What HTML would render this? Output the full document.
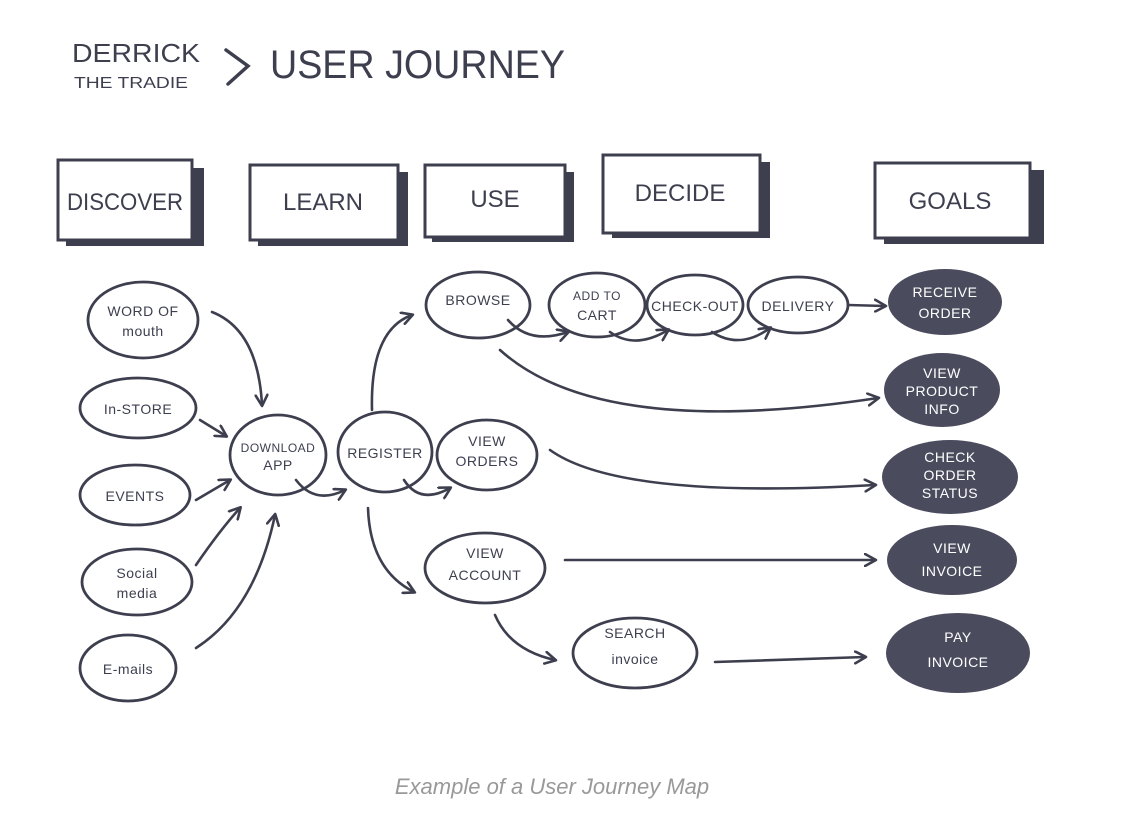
<!DOCTYPE html>
<html><head><meta charset="utf-8"><style>
html,body{margin:0;padding:0;background:#fff;}
svg{display:block}
text{font-family:"Liberation Sans",sans-serif;fill:#3d3f4f;}
</style></head><body>
<svg width="1148" height="828" viewBox="0 0 1148 828" xmlns="http://www.w3.org/2000/svg">
<defs>
<marker id="a" markerWidth="14" markerHeight="14" refX="11" refY="7" orient="auto" markerUnits="userSpaceOnUse">
<path d="M1,1 L12,7 L1,13" fill="none" stroke="#3d3f4f" stroke-width="2.6" stroke-linecap="round" stroke-linejoin="round"/>
</marker>
</defs>
<g font-family="Liberation Sans" fill="#3d3f4f">
<text x="72" y="62" font-size="26" textLength="128" lengthAdjust="spacingAndGlyphs">DERRICK</text>
<text x="74" y="88" font-size="16" textLength="114" lengthAdjust="spacingAndGlyphs">THE TRADIE</text>
<path d="M226,50 L248,66 L228,84" fill="none" stroke="#3d3f4f" stroke-width="3.5" stroke-linecap="round"/>
<text x="270" y="78" font-size="40" textLength="295" lengthAdjust="spacingAndGlyphs">USER JOURNEY</text>
</g>
<g stroke="#3d3f4f" stroke-width="3" fill="#fff">
<rect x="66" y="168" width="138" height="78" fill="#3d3f4f" stroke="none"/>
<rect x="58" y="160" width="134" height="80"/>
<rect x="258" y="172" width="150" height="74" fill="#3d3f4f" stroke="none"/>
<rect x="250" y="165" width="148" height="75"/>
<rect x="432" y="172" width="142" height="70" fill="#3d3f4f" stroke="none"/>
<rect x="425" y="165" width="140" height="72"/>
<rect x="612" y="162" width="158" height="76" fill="#3d3f4f" stroke="none"/>
<rect x="603" y="155" width="157" height="78"/>
<rect x="884" y="170" width="160" height="74" fill="#3d3f4f" stroke="none"/>
<rect x="875" y="163" width="155" height="75"/>
</g>
<g font-size="24" text-anchor="middle">
<text x="125" y="210" textLength="116" lengthAdjust="spacingAndGlyphs">DISCOVER</text>
<text x="323" y="210">LEARN</text>
<text x="495" y="207">USE</text>
<text x="680" y="201">DECIDE</text>
<text x="950" y="209">GOALS</text>
</g>
<g stroke="#3d3f4f" stroke-width="2.8" fill="none">
<ellipse cx="143" cy="320" rx="55" ry="38"/>
<ellipse cx="138" cy="408" rx="58" ry="30"/>
<ellipse cx="135" cy="495" rx="55" ry="30"/>
<ellipse cx="137" cy="582" rx="55" ry="33"/>
<ellipse cx="128" cy="668" rx="48" ry="33"/>
<ellipse cx="278" cy="455" rx="48" ry="40"/>
<ellipse cx="385" cy="452" rx="47" ry="40"/>
<ellipse cx="487" cy="455" rx="50" ry="35"/>
<ellipse cx="478" cy="305" rx="52" ry="33"/>
<ellipse cx="597" cy="305" rx="48" ry="32"/>
<ellipse cx="695" cy="305" rx="48" ry="30"/>
<ellipse cx="798" cy="305" rx="50" ry="28"/>
<ellipse cx="485" cy="568" rx="60" ry="35"/>
<ellipse cx="635" cy="653" rx="62" ry="35"/>
</g>
<g fill="#4a4c5e">
<ellipse cx="945" cy="302" rx="57" ry="33"/>
<ellipse cx="942" cy="390" rx="58" ry="37"/>
<ellipse cx="950" cy="477" rx="68" ry="37"/>
<ellipse cx="952" cy="560" rx="65" ry="35"/>
<ellipse cx="958" cy="653" rx="72" ry="40"/>
</g>
<g font-size="14" text-anchor="middle" letter-spacing="0.5">
<text x="143" y="316">WORD OF</text><text x="143" y="336">mouth</text>
<text x="138" y="414">In-STORE</text>
<text x="135" y="501">EVENTS</text>
<text x="137" y="578">Social</text><text x="137" y="598">media</text>
<text x="128" y="674">E-mails</text>
<text x="278" y="452" font-size="12">DOWNLOAD</text><text x="278" y="470">APP</text>
<text x="385" y="458">REGISTER</text>
<text x="487" y="446">VIEW</text><text x="487" y="466">ORDERS</text>
<text x="478" y="305">BROWSE</text>
<text x="597" y="300" font-size="12">ADD TO</text><text x="597" y="320">CART</text>
<text x="695" y="311">CHECK-OUT</text>
<text x="798" y="311">DELIVERY</text>
<text x="485" y="558">VIEW</text><text x="485" y="580">ACCOUNT</text>
<text x="635" y="638">SEARCH</text><text x="635" y="664">invoice</text>
</g>
<g font-size="14" text-anchor="middle" letter-spacing="0.5">
<text x="945" y="297" style="fill:#fff">RECEIVE</text><text x="945" y="318" style="fill:#fff">ORDER</text>
<text x="942" y="378" style="fill:#fff">VIEW</text><text x="942" y="396" style="fill:#fff">PRODUCT</text><text x="942" y="414" style="fill:#fff">INFO</text>
<text x="950" y="462" style="fill:#fff">CHECK</text><text x="950" y="480" style="fill:#fff">ORDER</text><text x="950" y="498" style="fill:#fff">STATUS</text>
<text x="952" y="553" style="fill:#fff">VIEW</text><text x="952" y="576" style="fill:#fff">INVOICE</text>
<text x="958" y="642" style="fill:#fff">PAY</text><text x="958" y="667" style="fill:#fff">INVOICE</text>
</g>
<g stroke="#3d3f4f" stroke-width="2.6" fill="none" stroke-linecap="round" marker-end="url(#a)">
<path d="M212,312 Q258,330 262,405"/>
<path d="M200,420 L226,436"/>
<path d="M196,500 L230,480"/>
<path d="M196,565 Q220,530 240,508"/>
<path d="M196,648 Q255,610 275,515"/>
<path d="M296,480 Q315,505 345,490"/>
<path d="M372,410 Q370,330 412,315"/>
<path d="M368,508 Q370,570 414,592"/>
<path d="M404,480 Q420,505 450,488"/>
<path d="M508,320 Q530,345 568,332"/>
<path d="M610,332 Q635,350 668,330"/>
<path d="M712,332 Q740,350 770,328"/>
<path d="M848,305 L885,306"/>
<path d="M500,350 Q600,440 878,398"/>
<path d="M550,450 Q620,500 875,485"/>
<path d="M565,560 L875,560"/>
<path d="M495,615 Q510,650 555,660"/>
<path d="M715,662 L865,657"/>
</g>
<text x="552" y="794" font-size="22" font-style="italic" text-anchor="middle" style="fill:#999">Example of a User Journey Map</text>
</svg>
</body></html>
